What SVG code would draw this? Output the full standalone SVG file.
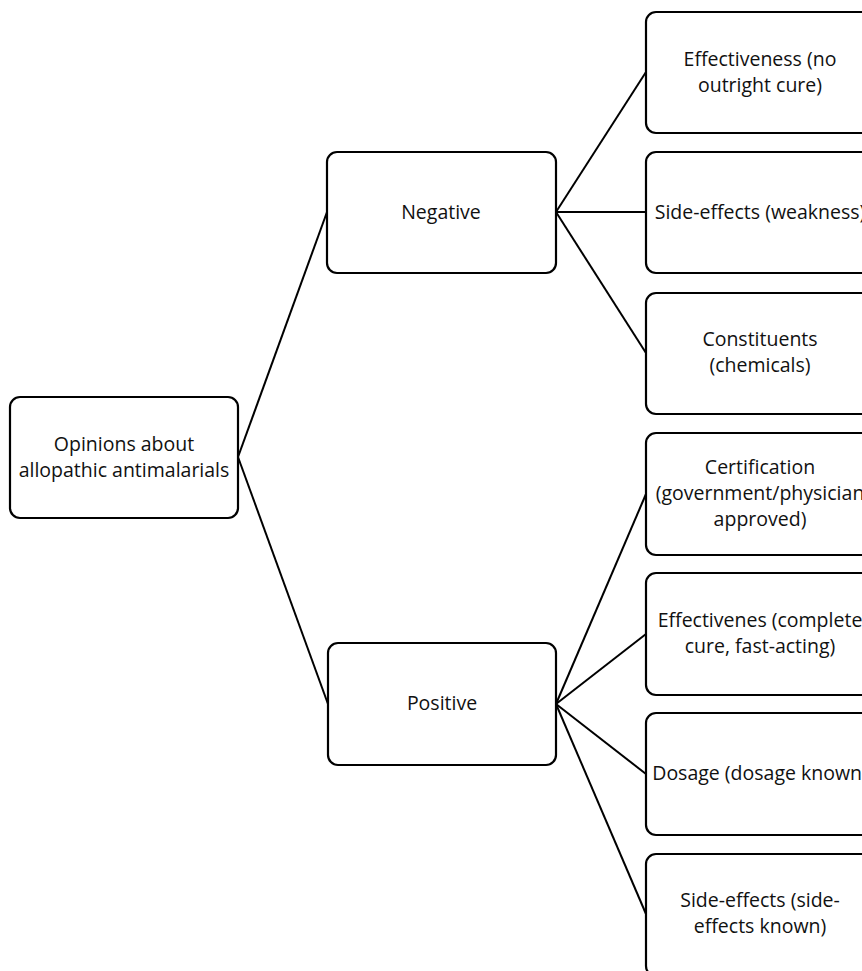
<svg xmlns="http://www.w3.org/2000/svg" width="862" height="971" viewBox="0 0 862 971">
<style>
.box{fill:#fff;stroke:#000;stroke-width:2.2}
.lbl{font-family:"Open Sans","Noto Sans",sans-serif;font-size:19.5px;fill:#111;text-anchor:middle}
.conn line{stroke:#000;stroke-width:2}
</style>
<rect width="862" height="971" fill="#fff"/>
<g id="connectors" class="conn">
<line x1="238" y1="457" x2="327" y2="212"/>
<line x1="238" y1="457" x2="328" y2="704"/>
<line x1="556" y1="212" x2="646" y2="72"/>
<line x1="556" y1="212" x2="646" y2="212"/>
<line x1="556" y1="212" x2="646" y2="353"/>
<line x1="556" y1="704" x2="646" y2="494"/>
<line x1="556" y1="704" x2="646" y2="634"/>
<line x1="556" y1="704" x2="646" y2="774"/>
<line x1="556" y1="704" x2="646" y2="914"/>
</g>
<g id="root">
<rect class="box" x="10" y="397" width="228" height="121" rx="10"/>
<text class="lbl" x="124" y="451">Opinions about</text>
<text class="lbl" x="124" y="477">allopathic antimalarials</text>
</g>
<g id="negative">
<rect class="box" x="327" y="152" width="229" height="121" rx="10"/>
<text class="lbl" x="441" y="219">Negative</text>
</g>
<g id="positive">
<rect class="box" x="328" y="643" width="228" height="122" rx="10"/>
<text class="lbl" x="442" y="710">Positive</text>
</g>
<g id="neg-effectiveness">
<rect class="box" x="646" y="12" width="228" height="121" rx="10"/>
<text class="lbl" x="760" y="66">Effectiveness (no</text>
<text class="lbl" x="760" y="92">outright cure)</text>
</g>
<g id="neg-side-effects">
<rect class="box" x="646" y="152" width="228" height="121" rx="10"/>
<text class="lbl" x="760" y="219">Side-effects (weakness)</text>
</g>
<g id="neg-constituents">
<rect class="box" x="646" y="293" width="228" height="121" rx="10"/>
<text class="lbl" x="760" y="346">Constituents</text>
<text class="lbl" x="760" y="372">(chemicals)</text>
</g>
<g id="pos-certification">
<rect class="box" x="646" y="433" width="228" height="122" rx="10"/>
<text class="lbl" x="760" y="474">Certification</text>
<text class="lbl" x="760" y="500">(government/physician</text>
<text class="lbl" x="760" y="526">approved)</text>
</g>
<g id="pos-effectiveness">
<rect class="box" x="646" y="573" width="228" height="122" rx="10"/>
<text class="lbl" x="760" y="627">Effectivenes (complete</text>
<text class="lbl" x="760" y="653">cure, fast-acting)</text>
</g>
<g id="pos-dosage">
<rect class="box" x="646" y="713" width="228" height="122" rx="10"/>
<text class="lbl" x="760" y="780">Dosage (dosage known)</text>
</g>
<g id="pos-side-effects">
<rect class="box" x="646" y="854" width="228" height="122" rx="10"/>
<text class="lbl" x="760" y="907">Side-effects (side-</text>
<text class="lbl" x="760" y="933">effects known)</text>
</g>
</svg>
